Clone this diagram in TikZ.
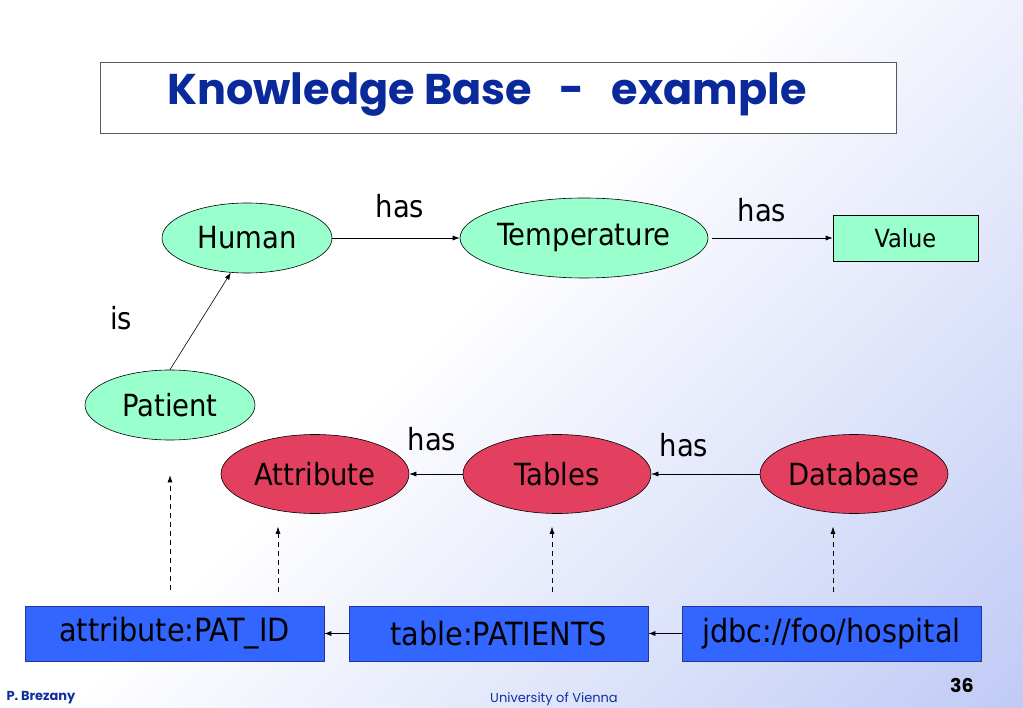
\documentclass[tikz,border=0pt]{standalone}
\usepackage{fontspec}
\setmainfont{DejaVu Sans Condensed}
\newfontfamily\titlefont{Poppins}
\usetikzlibrary{shapes.geometric,arrows.meta}
\definecolor{mint}{HTML}{99FFCC}
\definecolor{crim}{HTML}{E34060}
\definecolor{boxblue}{HTML}{3366FF}
\definecolor{boxline}{HTML}{24349C}
\definecolor{bgblue}{HTML}{BFCAF5}
\definecolor{titleblue}{HTML}{0A2A9C}
\definecolor{footblue}{HTML}{1030A0}
\pgfdeclarehorizontalshading{bgshade}{100bp}{color(0bp)=(white); color(46bp)=(white); color(86bp)=(bgblue); color(100bp)=(bgblue)}
\begin{document}
\begin{tikzpicture}[x=1pt,y=-1pt,
  conc/.style={ellipse, draw=black, line width=0.6pt, inner sep=0pt, font=\fontsize{30.5}{34}\selectfont},
  greennode/.style={conc, fill=mint},
  rednode/.style={conc, fill=crim, minimum width=188pt, minimum height=79pt},
  valbox/.style={rectangle, draw=black, line width=0.6pt, fill=mint, minimum width=145pt, minimum height=46pt, inner sep=0pt, font=\fontsize{25}{28}\selectfont},
  srcbox/.style={rectangle, draw=boxline, line width=0.8pt, fill=boxblue, minimum width=299pt, minimum height=55pt, inner sep=0pt, font=\fontsize{32}{36}\selectfont},
  rel/.style={-{Latex[length=7pt,width=5pt]}, line width=0.6pt},
  maprel/.style={rel, dash pattern=on 5pt off 4pt},
  lbl/.style={font=\fontsize{30.5}{34}\selectfont, inner sep=0pt},
  titlebox/.style={rectangle, draw=black!65, line width=0.8pt, fill=white, minimum width=796pt, minimum height=71pt, inner sep=0pt},
  titletext/.style={font=\titlefont\bfseries\fontsize{43}{48}\selectfont, text=titleblue, inner sep=0pt},
  foot/.style={font=\titlefont\fontsize{13}{15}\selectfont, text=footblue, inner sep=0pt}
]
\useasboundingbox (0,0) rectangle (1023,708);
\shade[shading=bgshade, shading angle=-45] (0,0) rectangle (1023,708);

% title
\node[titlebox] (tbox) at (498,97.5) {};
\node[titletext] (ttl) at (487,95) {Knowledge Base\ \ \ -\ \ \ example};

% concepts
\node[greennode, minimum width=170pt, minimum height=70pt] (hum) at (247,238) {Human};
\node[greennode, minimum width=170pt, minimum height=70pt] (pat) at (170,405) {Patient};
\node[greennode, minimum width=248pt, minimum height=80pt] (temp) at (584,238) {Temperature};
\node[valbox] (val) at (905.5,238) {Value};

\node[rednode] (attr) at (315,474) {Attribute};
\node[rednode] (tab) at (557,474) {Tables};
\node[rednode] (db) at (854,474) {Database};

\node[srcbox] (b1) at (174.5,633.5) {attribute:PAT\_ID};
\node[srcbox] (b2) at (498.5,633.5) {table:PATIENTS};
\node[srcbox] (b3) at (831.5,633.5) {jdbc://foo/hospital};

% labels
\node[lbl] (lis) at (121,318) {is};
\node[lbl] (lh1) at (400,206) {has};
\node[lbl] (lh2) at (762,210) {has};
\node[lbl] (lh3) at (432,439) {has};
\node[lbl] (lh4) at (684,445) {has};

% connectors
\draw[rel] (pat.north) -- (hum.245);
\draw[rel] (hum.east) -- (temp.west);
\draw[rel, shorten <=4pt] (temp.east) -- (val.west);
\draw[rel] (tab.west) -- (attr.east);
\draw[rel] (db.west) -- (tab.east);
\draw[rel] (b2.west) -- (b1.east);
\draw[rel] (b3.west) -- (b2.east);

\coordinate (xa) at (170,0);
\coordinate (xb) at (278,0);
\coordinate (xc) at (552,0);
\coordinate (xd) at (833,0);
\draw[maprel, shorten <=16pt, shorten >=35pt] (b1.north -| xa) -- (pat.south -| xa);
\draw[maprel, shorten <=14pt, shorten >=13pt] (b1.north -| xb) -- (attr.south -| xb);
\draw[maprel, shorten <=14pt, shorten >=13pt] (b2.north -| xc) -- (tab.south -| xc);
\draw[maprel, shorten <=14pt, shorten >=13pt] (b3.north -| xd) -- (db.south -| xd);

% footer
\node[foot, font=\titlefont\bfseries\fontsize{13}{15}\selectfont] (auth) at (41,698) {P. Brezany};
\node[foot] (univ) at (554,699) {University of Vienna};
\node[font=\titlefont\bfseries\fontsize{19}{22}\selectfont, inner sep=0pt] (pg) at (962,685) {36};
\end{tikzpicture}
\end{document}
